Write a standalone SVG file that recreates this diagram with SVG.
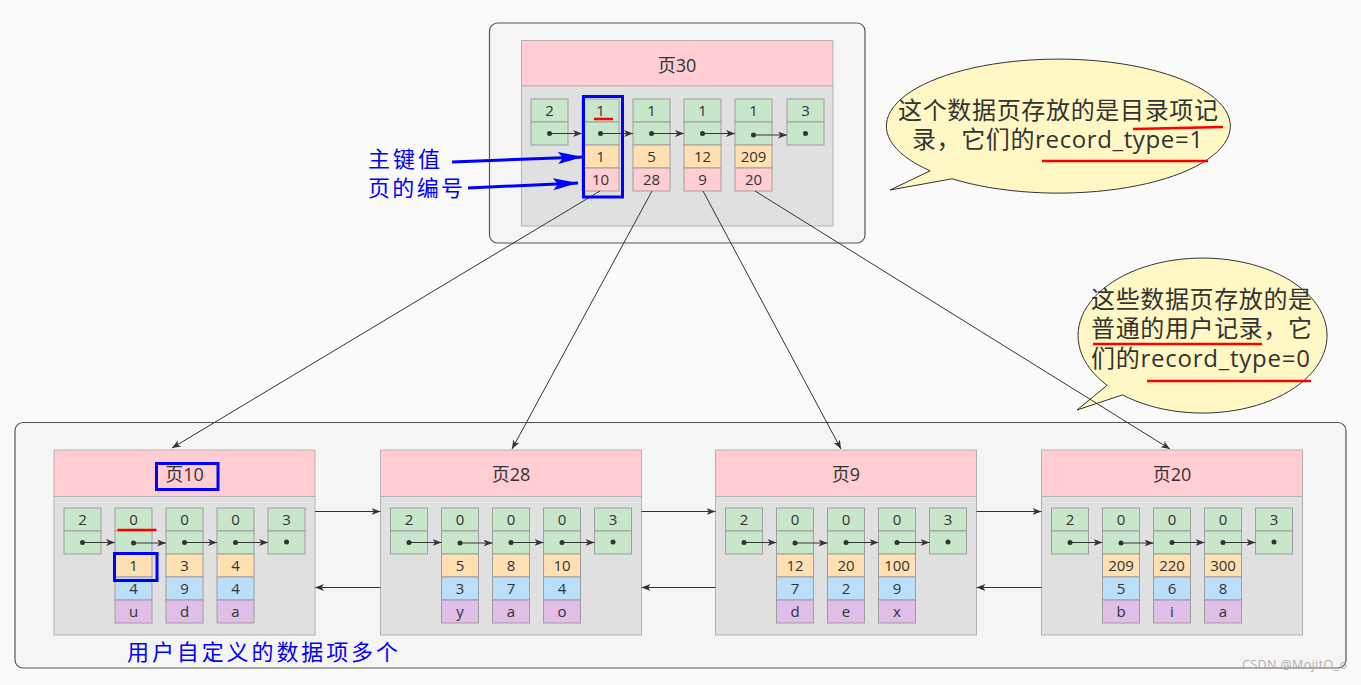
<svg xmlns="http://www.w3.org/2000/svg" width="1361" height="685" viewBox="0 0 1361 685">
<style>
text{font-family:"Open Sans","Noto Sans CJK SC",sans-serif;fill:#333}
.cont{fill:#f5f5f5;stroke:#555;stroke-width:1.2}
.hd{fill:#ffcdd2;stroke:#b3b3b3;stroke-width:1}
.bd{fill:#e0e0e0;stroke:#b3b3b3;stroke-width:1}
.g{fill:#c8e6c9;stroke:#9e9e9e;stroke-width:1}
.o{fill:#ffe0b2;stroke:#9e9e9e;stroke-width:1}
.p{fill:#ffcdd2;stroke:#9e9e9e;stroke-width:1}
.b{fill:#bbdefb;stroke:#9e9e9e;stroke-width:1}
.v{fill:#e1bee7;stroke:#9e9e9e;stroke-width:1}
.c{font-size:15px;text-anchor:middle}
.ht{font-size:18px;text-anchor:middle}
.dot{fill:#333}
.ln{stroke:#333;stroke-width:1;fill:none;marker-end:url(#ah)}
.bl{stroke:#0000ff;stroke-width:3;fill:none;marker-end:url(#bah)}
.bt{font-size:22px;fill:#0000ff}
.bx{fill:none;stroke:#0000ff;stroke-width:3}
.red{stroke:#ff0000;stroke-width:2.5;fill:none}
.bub{fill:#fff7c4;stroke:#333;stroke-width:1}
.bub-t{font-size:24px}
</style>
<defs>
<marker id="ah" markerUnits="userSpaceOnUse" markerWidth="10" markerHeight="8" refX="9" refY="3.5" orient="auto"><path d="M0,0 L9,3.5 L0,7 L2.5,3.5 Z" fill="#333"/></marker>
<marker id="bah" markerUnits="userSpaceOnUse" markerWidth="26" markerHeight="13" refX="25" refY="6" orient="auto"><path d="M0,0 L25,6 L0,12 L5,6 Z" fill="#0000ff"/></marker>
</defs>
<rect x="0" y="0" width="1361" height="685" fill="#fafafa"/>
<g id="top-container"><rect class="cont" x="489.5" y="23" width="375.5" height="220" rx="8"/></g>
<g id="bottom-container"><rect class="cont" x="15" y="422.5" width="1331" height="245.5" rx="8"/></g>

<g id="page30" transform="translate(521.5,0)">
<rect class="hd" x="0" y="40.5" width="311.5" height="45.5"/>
<rect class="bd" x="0" y="86" width="311.5" height="140"/>
<text class="ht" x="155.5" y="71.5">页30</text>
<rect class="g" x="9.5" y="99" width="37" height="23"/><rect class="g" x="9.5" y="122" width="37" height="23"/>
<text class="c" x="28" y="116">2</text>
<rect class="g" x="60.5" y="99" width="37" height="23"/><rect class="g" x="60.5" y="122" width="37" height="23"/><rect class="o" x="60.5" y="145" width="37" height="23"/><rect class="p" x="60.5" y="168" width="37" height="23"/>
<text class="c" x="79" y="116">1</text><text class="c" x="79" y="162">1</text><text class="c" x="79" y="185">10</text>
<rect class="g" x="111.5" y="99" width="37" height="23"/><rect class="g" x="111.5" y="122" width="37" height="23"/><rect class="o" x="111.5" y="145" width="37" height="23"/><rect class="p" x="111.5" y="168" width="37" height="23"/>
<text class="c" x="130" y="116">1</text><text class="c" x="130" y="162">5</text><text class="c" x="130" y="185">28</text>
<rect class="g" x="162.5" y="99" width="37" height="23"/><rect class="g" x="162.5" y="122" width="37" height="23"/><rect class="o" x="162.5" y="145" width="37" height="23"/><rect class="p" x="162.5" y="168" width="37" height="23"/>
<text class="c" x="181" y="116">1</text><text class="c" x="181" y="162">12</text><text class="c" x="181" y="185">9</text>
<rect class="g" x="213.5" y="99" width="37" height="23"/><rect class="g" x="213.5" y="122" width="37" height="23"/><rect class="o" x="213.5" y="145" width="37" height="23"/><rect class="p" x="213.5" y="168" width="37" height="23"/>
<text class="c" x="232" y="116">1</text><text class="c" x="232" y="162">209</text><text class="c" x="232" y="185">20</text>
<rect class="g" x="265.5" y="99" width="37" height="23"/><rect class="g" x="265.5" y="122" width="37" height="23"/>
<text class="c" x="284" y="116">3</text>
<circle class="dot" cx="28" cy="133.5" r="2.5"/><circle class="dot" cx="79" cy="133.5" r="2.5"/><circle class="dot" cx="130" cy="133.5" r="2.5"/><circle class="dot" cx="181" cy="133.5" r="2.5"/><circle class="dot" cx="232" cy="135" r="2.5"/><circle class="dot" cx="284" cy="133.5" r="2.5"/>
<path class="ln" d="M28,133.5 H60.5"/><path class="ln" d="M79,133.5 H111.5"/><path class="ln" d="M130,133.5 H162.5"/><path class="ln" d="M181,133.5 H213.5"/><path class="ln" d="M232,135 H265.5"/>
</g>

<g id="page10" transform="translate(54,0)">
<rect class="hd" x="0" y="450" width="261" height="46.5"/>
<rect class="bd" x="0" y="496.5" width="261" height="138.5"/>
<text class="ht" x="130.5" y="481">页10</text>
<rect class="g" x="10" y="508" width="37" height="23"/><rect class="g" x="10" y="531" width="37" height="23"/>
<text class="c" x="28.5" y="525">2</text>
<rect class="g" x="61" y="508" width="37" height="23"/><rect class="g" x="61" y="531" width="37" height="23"/><rect class="o" x="61" y="554" width="37" height="23"/><rect class="b" x="61" y="577" width="37" height="23"/><rect class="v" x="61" y="600" width="37" height="23"/>
<text class="c" x="79.5" y="525">0</text><text class="c" x="79.5" y="571">1</text><text class="c" x="79.5" y="594">4</text><text class="c" x="79.5" y="617">u</text>
<rect class="g" x="112" y="508" width="37" height="23"/><rect class="g" x="112" y="531" width="37" height="23"/><rect class="o" x="112" y="554" width="37" height="23"/><rect class="b" x="112" y="577" width="37" height="23"/><rect class="v" x="112" y="600" width="37" height="23"/>
<text class="c" x="130.5" y="525">0</text><text class="c" x="130.5" y="571">3</text><text class="c" x="130.5" y="594">9</text><text class="c" x="130.5" y="617">d</text>
<rect class="g" x="163" y="508" width="37" height="23"/><rect class="g" x="163" y="531" width="37" height="23"/><rect class="o" x="163" y="554" width="37" height="23"/><rect class="b" x="163" y="577" width="37" height="23"/><rect class="v" x="163" y="600" width="37" height="23"/>
<text class="c" x="181.5" y="525">0</text><text class="c" x="181.5" y="571">4</text><text class="c" x="181.5" y="594">4</text><text class="c" x="181.5" y="617">a</text>
<rect class="g" x="214" y="508" width="37" height="23"/><rect class="g" x="214" y="531" width="37" height="23"/>
<text class="c" x="232.5" y="525">3</text>
<circle class="dot" cx="28.5" cy="542.5" r="2.5"/><circle class="dot" cx="79.5" cy="543" r="2.5"/><circle class="dot" cx="130.5" cy="542.5" r="2.5"/><circle class="dot" cx="181.5" cy="542.5" r="2.5"/><circle class="dot" cx="232.5" cy="542" r="2.5"/>
<path class="ln" d="M28.5,542.5 H61"/><path class="ln" d="M79.5,543 H112"/><path class="ln" d="M130.5,542.5 H163"/><path class="ln" d="M181.5,542.5 H214"/>
</g>

<g id="page28" transform="translate(380.5,0)">
<rect class="hd" x="0" y="450" width="261" height="46.5"/>
<rect class="bd" x="0" y="496.5" width="261" height="138.5"/>
<text class="ht" x="130.5" y="481">页28</text>
<rect class="g" x="10" y="508" width="37" height="23"/><rect class="g" x="10" y="531" width="37" height="23"/>
<text class="c" x="28.5" y="525">2</text>
<rect class="g" x="61" y="508" width="37" height="23"/><rect class="g" x="61" y="531" width="37" height="23"/><rect class="o" x="61" y="554" width="37" height="23"/><rect class="b" x="61" y="577" width="37" height="23"/><rect class="v" x="61" y="600" width="37" height="23"/>
<text class="c" x="79.5" y="525">0</text><text class="c" x="79.5" y="571">5</text><text class="c" x="79.5" y="594">3</text><text class="c" x="79.5" y="617">y</text>
<rect class="g" x="112" y="508" width="37" height="23"/><rect class="g" x="112" y="531" width="37" height="23"/><rect class="o" x="112" y="554" width="37" height="23"/><rect class="b" x="112" y="577" width="37" height="23"/><rect class="v" x="112" y="600" width="37" height="23"/>
<text class="c" x="130.5" y="525">0</text><text class="c" x="130.5" y="571">8</text><text class="c" x="130.5" y="594">7</text><text class="c" x="130.5" y="617">a</text>
<rect class="g" x="163" y="508" width="37" height="23"/><rect class="g" x="163" y="531" width="37" height="23"/><rect class="o" x="163" y="554" width="37" height="23"/><rect class="b" x="163" y="577" width="37" height="23"/><rect class="v" x="163" y="600" width="37" height="23"/>
<text class="c" x="181.5" y="525">0</text><text class="c" x="181.5" y="571">10</text><text class="c" x="181.5" y="594">4</text><text class="c" x="181.5" y="617">o</text>
<rect class="g" x="214" y="508" width="37" height="23"/><rect class="g" x="214" y="531" width="37" height="23"/>
<text class="c" x="232.5" y="525">3</text>
<circle class="dot" cx="28.5" cy="542.5" r="2.5"/><circle class="dot" cx="79.5" cy="543" r="2.5"/><circle class="dot" cx="130.5" cy="542.5" r="2.5"/><circle class="dot" cx="181.5" cy="542.5" r="2.5"/><circle class="dot" cx="232.5" cy="542" r="2.5"/>
<path class="ln" d="M28.5,542.5 H61"/><path class="ln" d="M79.5,543 H112"/><path class="ln" d="M130.5,542.5 H163"/><path class="ln" d="M181.5,542.5 H214"/>
</g>

<g id="page9" transform="translate(715.5,0)">
<rect class="hd" x="0" y="450" width="261" height="46.5"/>
<rect class="bd" x="0" y="496.5" width="261" height="138.5"/>
<text class="ht" x="130.5" y="481">页9</text>
<rect class="g" x="10" y="508" width="37" height="23"/><rect class="g" x="10" y="531" width="37" height="23"/>
<text class="c" x="28.5" y="525">2</text>
<rect class="g" x="61" y="508" width="37" height="23"/><rect class="g" x="61" y="531" width="37" height="23"/><rect class="o" x="61" y="554" width="37" height="23"/><rect class="b" x="61" y="577" width="37" height="23"/><rect class="v" x="61" y="600" width="37" height="23"/>
<text class="c" x="79.5" y="525">0</text><text class="c" x="79.5" y="571">12</text><text class="c" x="79.5" y="594">7</text><text class="c" x="79.5" y="617">d</text>
<rect class="g" x="112" y="508" width="37" height="23"/><rect class="g" x="112" y="531" width="37" height="23"/><rect class="o" x="112" y="554" width="37" height="23"/><rect class="b" x="112" y="577" width="37" height="23"/><rect class="v" x="112" y="600" width="37" height="23"/>
<text class="c" x="130.5" y="525">0</text><text class="c" x="130.5" y="571">20</text><text class="c" x="130.5" y="594">2</text><text class="c" x="130.5" y="617">e</text>
<rect class="g" x="163" y="508" width="37" height="23"/><rect class="g" x="163" y="531" width="37" height="23"/><rect class="o" x="163" y="554" width="37" height="23"/><rect class="b" x="163" y="577" width="37" height="23"/><rect class="v" x="163" y="600" width="37" height="23"/>
<text class="c" x="181.5" y="525">0</text><text class="c" x="181.5" y="571">100</text><text class="c" x="181.5" y="594">9</text><text class="c" x="181.5" y="617">x</text>
<rect class="g" x="214" y="508" width="37" height="23"/><rect class="g" x="214" y="531" width="37" height="23"/>
<text class="c" x="232.5" y="525">3</text>
<circle class="dot" cx="28.5" cy="542.5" r="2.5"/><circle class="dot" cx="79.5" cy="543" r="2.5"/><circle class="dot" cx="130.5" cy="542.5" r="2.5"/><circle class="dot" cx="181.5" cy="542.5" r="2.5"/><circle class="dot" cx="232.5" cy="542" r="2.5"/>
<path class="ln" d="M28.5,542.5 H61"/><path class="ln" d="M79.5,543 H112"/><path class="ln" d="M130.5,542.5 H163"/><path class="ln" d="M181.5,542.5 H214"/>
</g>

<g id="page20" transform="translate(1041.5,0)">
<rect class="hd" x="0" y="450" width="261" height="46.5"/>
<rect class="bd" x="0" y="496.5" width="261" height="138.5"/>
<text class="ht" x="130.5" y="481">页20</text>
<rect class="g" x="10" y="508" width="37" height="23"/><rect class="g" x="10" y="531" width="37" height="23"/>
<text class="c" x="28.5" y="525">2</text>
<rect class="g" x="61" y="508" width="37" height="23"/><rect class="g" x="61" y="531" width="37" height="23"/><rect class="o" x="61" y="554" width="37" height="23"/><rect class="b" x="61" y="577" width="37" height="23"/><rect class="v" x="61" y="600" width="37" height="23"/>
<text class="c" x="79.5" y="525">0</text><text class="c" x="79.5" y="571">209</text><text class="c" x="79.5" y="594">5</text><text class="c" x="79.5" y="617">b</text>
<rect class="g" x="112" y="508" width="37" height="23"/><rect class="g" x="112" y="531" width="37" height="23"/><rect class="o" x="112" y="554" width="37" height="23"/><rect class="b" x="112" y="577" width="37" height="23"/><rect class="v" x="112" y="600" width="37" height="23"/>
<text class="c" x="130.5" y="525">0</text><text class="c" x="130.5" y="571">220</text><text class="c" x="130.5" y="594">6</text><text class="c" x="130.5" y="617">i</text>
<rect class="g" x="163" y="508" width="37" height="23"/><rect class="g" x="163" y="531" width="37" height="23"/><rect class="o" x="163" y="554" width="37" height="23"/><rect class="b" x="163" y="577" width="37" height="23"/><rect class="v" x="163" y="600" width="37" height="23"/>
<text class="c" x="181.5" y="525">0</text><text class="c" x="181.5" y="571">300</text><text class="c" x="181.5" y="594">8</text><text class="c" x="181.5" y="617">a</text>
<rect class="g" x="214" y="508" width="37" height="23"/><rect class="g" x="214" y="531" width="37" height="23"/>
<text class="c" x="232.5" y="525">3</text>
<circle class="dot" cx="28.5" cy="542.5" r="2.5"/><circle class="dot" cx="79.5" cy="543" r="2.5"/><circle class="dot" cx="130.5" cy="542.5" r="2.5"/><circle class="dot" cx="181.5" cy="542.5" r="2.5"/><circle class="dot" cx="232.5" cy="542" r="2.5"/>
<path class="ln" d="M28.5,542.5 H61"/><path class="ln" d="M79.5,543 H112"/><path class="ln" d="M130.5,542.5 H163"/><path class="ln" d="M181.5,542.5 H214"/>
</g>

<g id="bubble-index">
<path class="bub" d="M930.2,170.8 L890,190 L952.1,178.8 A172 67 0 1 0 930.2,170.8 Z"/>
<text class="bub-t" x="898" y="119" textLength="320" lengthAdjust="spacing">这个数据页存放的是目录项记</text>
<text class="bub-t" x="912" y="148" textLength="291" lengthAdjust="spacing">录，它们的record_type=1</text>
<path class="red" d="M1133,129 L1223,127"/>
<path class="red" d="M1042,161 H1208"/>
</g>
<g id="bubble-leaf">
<path class="bub" d="M1107.1,385.3 L1077,410 L1122.5,394.9 A124.5 77.5 0 1 0 1107.1,385.3 Z"/>
<text class="bub-t" x="1091" y="308" textLength="221" lengthAdjust="spacing">这些数据页存放的是</text>
<text class="bub-t" x="1091" y="337" textLength="221" lengthAdjust="spacing">普通的用户记录，它</text>
<text class="bub-t" x="1091" y="367" textLength="219" lengthAdjust="spacing">们的record_type=0</text>
<path class="red" d="M1093,344 H1262"/>
<path class="red" d="M1147,381 H1311"/>
</g>

<g id="connectors">
<path class="ln" d="M600,191 L172,448"/>
<path class="ln" d="M652,191 L512,449"/>
<path class="ln" d="M703,191 L841,449"/>
<path class="ln" d="M755,191 L1170,449"/>
<path class="ln" d="M315,511.5 H380.5"/>
<path class="ln" d="M641.5,511.5 H715.5"/>
<path class="ln" d="M976.5,511.5 H1041.5"/>
<path class="ln" d="M380.5,587.5 H315"/>
<path class="ln" d="M715.5,587.5 H641.5"/>
<path class="ln" d="M1041.5,587.5 H976.5"/>
</g>

<g id="annotations">
<rect class="bx" x="583.5" y="96.5" width="39" height="100.5"/>
<path class="red" d="M594,119 H613"/>
<rect class="bx" x="156.5" y="463.5" width="61.5" height="26"/>
<rect class="bx" x="114.5" y="553.5" width="42.5" height="27"/>
<path class="red" d="M117.5,530 H156.5"/>
<text class="bt" x="368" y="167" textLength="72" lengthAdjust="spacing">主键值</text>
<text class="bt" x="368" y="196" textLength="95" lengthAdjust="spacing">页的编号</text>
<path class="bl" d="M452,162 L583,157"/>
<path class="bl" d="M468,188 L578,183"/>
<text class="bt" x="127" y="660" textLength="271" lengthAdjust="spacing">用户自定义的数据项多个</text>
</g>
<text x="1242" y="669" font-size="12.5" textLength="105" lengthAdjust="spacing" style="fill:#b0b0b0">CSDN @MojitO_o</text>
</svg>
